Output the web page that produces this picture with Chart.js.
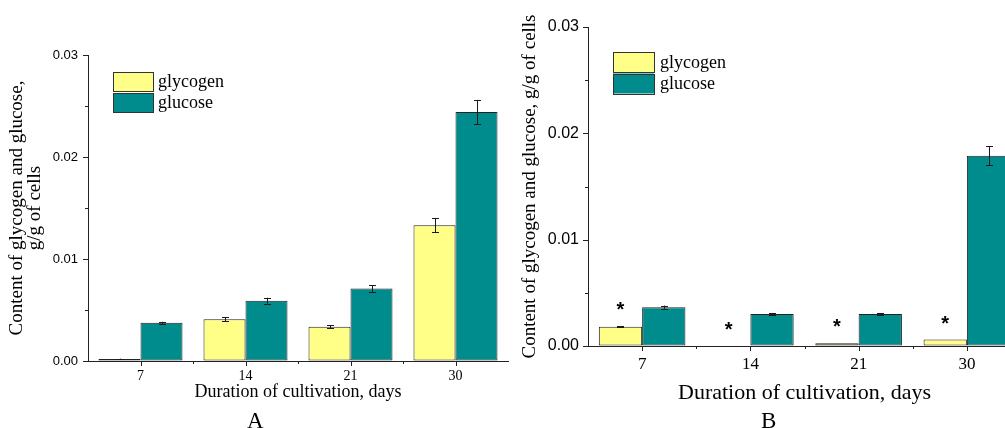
<!DOCTYPE html>
<html><head><meta charset="utf-8">
<script src="https://cdn.jsdelivr.net/npm/chart.js@4.4.1/dist/chart.umd.min.js"></script>
<style>
html,body{margin:0;padding:0;width:1005px;height:428px;overflow:hidden;background:#fff;}
#wrapA{position:absolute;left:0;top:0;width:520px;height:428px;}
#wrapB{position:absolute;left:520px;top:0;width:512px;height:428px;}
.panel{position:absolute;font-family:'Liberation Serif',serif;font-size:23px;color:#000;line-height:1;}
</style></head><body>
<div id="wrapA"><canvas id="cA" width="520" height="428" style="width:520px;height:428px"></canvas></div>
<div id="wrapB"><canvas id="cB" width="512" height="428" style="width:512px;height:428px"></canvas></div>
<div class="panel" style="left:247px;top:409px">A</div>
<div class="panel" style="left:761px;top:409px">B</div>
<script>
// ---- data ----
const categories = ['7', '14', '21', '30'];
const seriesNames = ['glycogen', 'glucose'];
const glycogenA = [0.0002, 0.0041, 0.00335, 0.0133];
const glucoseA = [0.00375, 0.0059, 0.0071, 0.0244];
const glycogenErrA = [0.00003, 0.0002, 0.00015, 0.0007];
const glucoseErrA = [0.0001, 0.0003, 0.00035, 0.0012];
const glycogenB = [0.0018, 0, 0.00025, 0.0006];
const glucoseB = [0.00365, 0.003, 0.003, 0.0179];
const glycogenErrB = [0.00005, 0, 0, 0];
const glucoseErrB = [0.00015, 0.0001, 0.0001, 0.0009];
const markersB = ['*', '*', '*', '*'];
const yTickLabels = [0, 0.01, 0.02, 0.03];
const yTitleA = ['Content of glycogen and glucose,', 'g/g of cells'];
const yTitleB = 'Content of glycogen and glucose, g/g of cells';
const xTitle = 'Duration of cultivation, days';

const YELLOW = '#FFFF88', TEAL = '#008C8C', EDGE = '#222';
const SERIF = "'Liberation Serif', 'Times New Roman', serif";
const SANS = "'Liberation Sans', Arial, sans-serif";

function isLabeled(v) { return yTickLabels.some(t => Math.abs(t - v) < 1e-9); }

// custom tick marks: major + minor
const tickMarks = {
  id: 'tickMarks',
  afterDraw(chart, args, o) {
    const ctx = chart.ctx, ca = chart.chartArea;
    const ys = chart.scales.y, xs = chart.scales.x;
    ctx.save();
    ctx.strokeStyle = '#222'; ctx.lineWidth = 1;
    ctx.beginPath();
    ys.ticks.forEach(t => {
      const p = Math.round(ys.getPixelForValue(t.value)) + 0.5;
      const len = isLabeled(t.value) ? o.major : o.minor;
      ctx.moveTo(ca.left - len, p); ctx.lineTo(ca.left, p);
    });
    const n = xs.ticks.length;
    for (let i = 0; i < n; i++) {
      const p = Math.round(xs.getPixelForValue(i)) + 0.5;
      ctx.moveTo(p, ca.bottom); ctx.lineTo(p, ca.bottom + o.major);
      if (i < n - 1) {
        const q = Math.round((xs.getPixelForValue(i) + xs.getPixelForValue(i + 1)) / 2) + 0.5;
        ctx.moveTo(q, ca.bottom); ctx.lineTo(q, ca.bottom + o.minor);
      }
    }
    ctx.stroke();
    ctx.restore();
  }
};

const errorBars = {
  id: 'errorBars',
  afterDatasetsDraw(chart, args, o) {
    const ctx = chart.ctx, ys = chart.scales.y;
    ctx.save();
    ctx.strokeStyle = '#1a1a1a'; ctx.lineWidth = 1;
    chart.data.datasets.forEach((ds, d) => {
      const errs = o.errors[d]; if (!errs) return;
      chart.getDatasetMeta(d).data.forEach((bar, i) => {
        const e = errs[i], v = ds.data[i];
        if (!e) return;
        const x = Math.round(bar.x) + 0.5;
        const y1 = ys.getPixelForValue(v + e), y2 = ys.getPixelForValue(v - e);
        ctx.beginPath();
        ctx.moveTo(x, y1); ctx.lineTo(x, y2);
        ctx.moveTo(x - o.cap, Math.round(y1) + 0.5); ctx.lineTo(x + o.cap, Math.round(y1) + 0.5);
        ctx.moveTo(x - o.cap, Math.round(y2) + 0.5); ctx.lineTo(x + o.cap, Math.round(y2) + 0.5);
        ctx.stroke();
      });
    });
    ctx.restore();
  }
};

const boxLegend = {
  id: 'boxLegend',
  afterDraw(chart, args, o) {
    const ctx = chart.ctx, ca = chart.chartArea;
    ctx.save();
    ctx.font = o.font; ctx.textBaseline = 'middle'; ctx.textAlign = 'left'; ctx.fillStyle = '#000';
    chart.data.datasets.forEach((ds, i) => {
      const x = ca.left + o.dx, y = ca.top + o.dy + i * o.step;
      ctx.fillStyle = ds.backgroundColor;
      ctx.fillRect(x, y, o.w, o.h);
      ctx.strokeStyle = '#333'; ctx.lineWidth = 1;
      ctx.strokeRect(Math.round(x) + 0.5, Math.round(y) + 0.5, o.w, o.h);
      ctx.fillStyle = '#000';
      ctx.fillText(ds.label, x + o.w + o.gap, y + o.h / 2 + 1);
    });
    ctx.restore();
  }
};

const starMarkers = {
  id: 'starMarkers',
  afterDatasetsDraw(chart, args, o) {
    if (!o.marks) return;
    const ctx = chart.ctx, ys = chart.scales.y;
    const ds = chart.data.datasets[o.dataset];
    const errs = o.errors || [];
    ctx.save();
    ctx.font = o.font; ctx.fillStyle = '#000'; ctx.textAlign = 'center'; ctx.textBaseline = 'alphabetic';
    chart.getDatasetMeta(o.dataset).data.forEach((bar, i) => {
      const m = o.marks[i]; if (!m) return;
      const top = ys.getPixelForValue(ds.data[i] + (errs[i] || 0));
      const mt = ctx.measureText(m);
      const cy = top - o.offset;
      const baseline = cy + (mt.actualBoundingBoxAscent - mt.actualBoundingBoxDescent) / 2;
      ctx.fillText(m, bar.x, baseline);
    });
    ctx.restore();
  }
};

function makeConfig(p) {
  return {
    type: 'bar',
    data: {
      labels: categories,
      datasets: [
        { label: seriesNames[0], data: p.glycogen, backgroundColor: YELLOW, borderColor: EDGE, borderWidth: 1, borderSkipped: false },
        { label: seriesNames[1], data: p.glucose, backgroundColor: TEAL, borderColor: EDGE, borderWidth: 1, borderSkipped: false }
      ]
    },
    options: {
      responsive: false,
      animation: false,
      events: [],
      datasets: { bar: { categoryPercentage: 0.8, barPercentage: 1.0 } },
      layout: { padding: p.padding },
      plugins: {
        legend: { display: false },
        tooltip: { enabled: false },
        title: { display: false },
        errorBars: { errors: [p.glycogenErr, p.glucoseErr], cap: 3.5 },
        boxLegend: p.legend,
        tickMarks: { major: 5, minor: 3 },
        starMarkers: p.stars || {}
      },
      scales: {
        x: {
          type: 'category',
          offset: true,
          afterFit: s => { s.height = p.xHeight; },
          border: { display: true, color: '#222', width: 1 },
          grid: { display: true, drawOnChartArea: false, drawTicks: true, tickLength: 5, tickColor: 'rgba(0,0,0,0)', offset: true },
          ticks: { color: '#000', padding: p.xTickPad, font: { family: SERIF, size: p.xTickSize, lineHeight: 1.2 }, maxRotation: 0, autoSkip: false },
          title: { display: true, text: xTitle, color: '#000', font: { family: SERIF, size: p.xTitleSize, lineHeight: 1 }, padding: { top: 0, bottom: p.xTitlePad } }
        },
        y: {
          type: 'linear',
          min: 0, max: 0.03,
          afterFit: s => { s.width = p.yWidth; },
          border: { display: true, color: '#222', width: 1 },
          grid: { display: true, drawOnChartArea: false, drawTicks: true, tickLength: 5, tickColor: 'rgba(0,0,0,0)' },
          ticks: {
            stepSize: 0.005, color: '#000', padding: p.yTickPad,
            font: { family: SANS, size: p.yTickSize },
            callback: v => isLabeled(v) ? v.toFixed(2) : ''
          },
          title: { display: true, text: p.yTitle, color: '#000', font: { family: SERIF, size: p.yTitleSize, lineHeight: p.yTitleLH }, padding: { top: p.yTitlePad, bottom: 0 } }
        }
      }
    },
    plugins: [tickMarks, errorBars, boxLegend, starMarkers]
  };
}

new Chart(document.getElementById('cA'), makeConfig({
  glycogen: glycogenA, glucose: glucoseA, glycogenErr: glycogenErrA, glucoseErr: glucoseErrA,
  padding: { left: 0, top: 55, right: 12, bottom: 0 },
  xHeight: 67, yWidth: 88,
  xTickPad: 2, xTickSize: 14, xTitleSize: 18, xTitlePad: 27,
  yTickPad: 5, yTickSize: 13,
  yTitle: yTitleA, yTitleSize: 19, yTitleLH: 0.95, yTitlePad: 8,
  legend: { font: '18px ' + SERIF, dx: 25, dy: 17, step: 21, w: 40, h: 19, gap: 5 }
}));

new Chart(document.getElementById('cB'), makeConfig({
  glycogen: glycogenB, glucose: glucoseB, glycogenErr: glycogenErrB, glucoseErr: glucoseErrB,
  padding: { left: 0, top: 27, right: 11, bottom: 0 },
  xHeight: 82, yWidth: 68,
  xTickPad: 3, xTickSize: 17, xTitleSize: 22, xTitlePad: 24,
  yTickPad: 4, yTickSize: 16,
  yTitle: yTitleB, yTitleSize: 19, yTitleLH: 1, yTitlePad: 1,
  legend: { font: '18px ' + SERIF, dx: 25, dy: 25, step: 21.5, w: 41, h: 20, gap: 6 },
  stars: { marks: markersB, dataset: 0, errors: glycogenErrB, offset: 20, font: 'bold 20px ' + SANS }
}));
</script>
</body></html>
